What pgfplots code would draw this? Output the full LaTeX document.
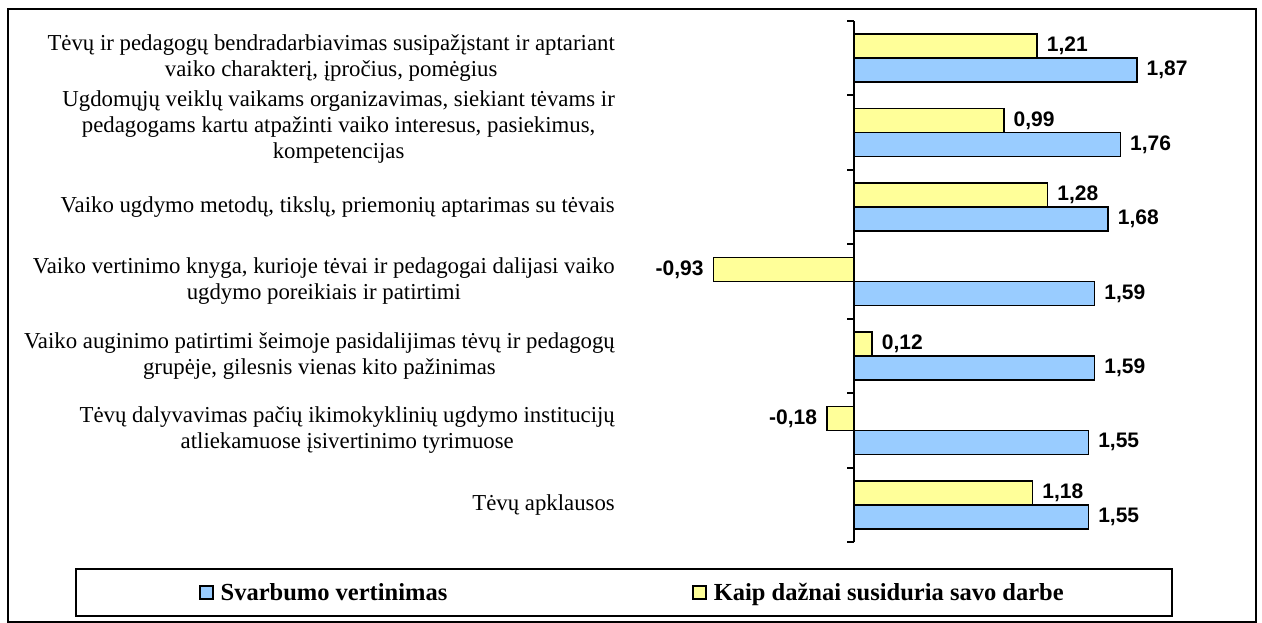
\documentclass[border=0pt]{standalone}
\usepackage{fontspec}
\setmainfont{Liberation Serif}
\setsansfont{Liberation Sans}
\usepackage{pgfplots}
\pgfplotsset{compat=1.18}
\definecolor{barblue}{HTML}{99CCFF}
\definecolor{baryellow}{HTML}{FFFF99}
\begin{document}
\begin{tikzpicture}[x=1pt,y=1pt]
\useasboundingbox (0,0) rectangle (1262,623);
\draw[line width=2.5pt] (8,1) rectangle (1256,614);
\draw[line width=2pt] (76,7) rectangle (1172,54);
\begin{axis}[
  at={(619.5pt,81pt)}, anchor=south west,
  scale only axis, width=612.8pt, height=521pt,
  xmin=-1.55, xmax=2.5, ymin=-0.5, ymax=6.5, y dir=reverse,
  axis x line=none,
  axis y line*=left, y axis line style={draw=none},
  ytick={0,...,6}, major tick length=0pt,
  yticklabels={
    {Tėvų ir pedagogų bendradarbiavimas susipažįstant ir aptariant\\vaiko charakterį, įpročius, pomėgius},
    {Ugdomųjų veiklų vaikams organizavimas, siekiant tėvams ir\\pedagogams kartu atpažinti vaiko interesus, pasiekimus,\\kompetencijas\\[-9pt]\mbox{}},
    {Vaiko ugdymo metodų, tikslų, priemonių aptarimas su tėvais},
    {Vaiko vertinimo knyga, kurioje tėvai ir pedagogai dalijasi vaiko\\ugdymo poreikiais ir patirtimi},
    {Vaiko auginimo patirtimi šeimoje pasidalijimas tėvų ir pedagogų\\grupėje, gilesnis vienas kito pažinimas},
    {Tėvų dalyvavimas pačių ikimokyklinių ugdymo institucijų\\atliekamuose įsivertinimo tyrimuose},
    {Tėvų apklausos}},
  yticklabel style={align=center, font=\fontsize{22.8}{26}\selectfont, inner xsep=4.5pt},
  xbar, bar width=24pt,
  clip=false,
  nodes near coords, nodes near coords align=horizontal,
  every node near coord/.append style={font=\fontsize{21}{25}\selectfont\sffamily\bfseries, inner xsep=9pt, black},
  /pgf/number format/use comma,
  /pgf/number format/fixed,
  /pgf/number format/fixed zerofill,
  /pgf/number format/precision=2,
  /pgf/number format/assume math mode=true,
  reverse legend,
  legend columns=2,
  legend style={draw=none, fill=none, inner sep=0pt, anchor=west,
    at={(axis description cs:-0.6862,-0.0969)},
    font=\fontsize{24.5}{28}\selectfont\bfseries,
    /tikz/every even column/.append style={column sep=243pt}},
  legend image code/.code={\draw[#1, line width=1.5pt] (0pt,-6.5pt) rectangle (13pt,6.5pt); \path (18pt,0pt);},
]
\addplot[fill=baryellow, draw=black, line width=1.5pt, bar shift=12pt] coordinates {
  (1.21,0) (0.99,1) (1.28,2) (-0.93,3) (0.12,4) (-0.18,5) (1.18,6)};
\addlegendentry{Kaip dažnai susiduria savo darbe}
\addplot[fill=barblue, draw=black, line width=1.5pt, bar shift=-12pt] coordinates {
  (1.87,0) (1.76,1) (1.68,2) (1.59,3) (1.59,4) (1.55,5) (1.55,6)};
\addlegendentry{Svarbumo vertinimas}
\draw[line width=2pt] (axis cs:0,-0.5) -- (axis cs:0,6.5);
\pgfplotsinvokeforeach{-0.5,0.5,...,6.5}{\draw[line width=2pt] (axis cs:0,#1) -- ++(-7pt,0pt);}
\end{axis}
\end{tikzpicture}
\end{document}
